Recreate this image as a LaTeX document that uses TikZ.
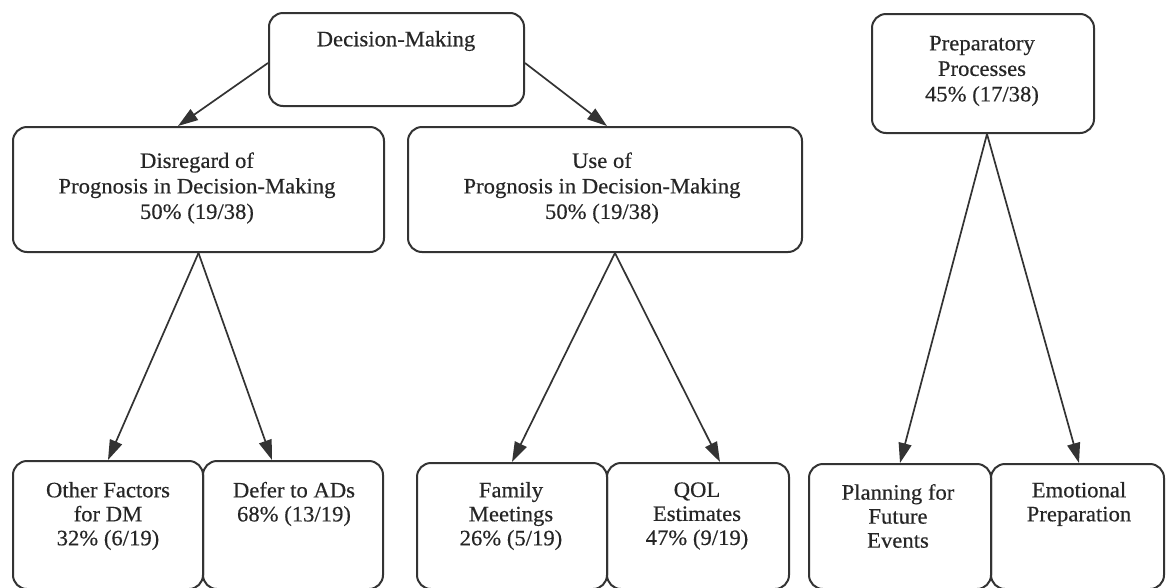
\documentclass[tikz,border=0pt]{standalone}
\usepackage{fontspec}
\setmainfont{Liberation Serif}[FakeStretch=1.03,FakeBold=0.4]
\usetikzlibrary{arrows.meta,calc}
\definecolor{ink}{HTML}{333333}
\definecolor{txt}{HTML}{262626}
\begin{document}
\begin{tikzpicture}[x=1pt,y=-1pt,
  box/.style={draw=ink, line width=2pt, rounded corners=14pt, rectangle, inner sep=0pt, anchor=north west},
  lbl/.style={text=txt, align=center, font=\fontsize{22}{25.5}\selectfont, inner sep=0pt},
  lbls/.style={text=txt, align=center, font=\fontsize{22}{24}\selectfont, inner sep=0pt},
  conn/.style={draw=ink, line width=1.7pt, -{Triangle[length=20pt,width=13pt]}}
]
\useasboundingbox (0,0) rectangle (1168,587);
\fill[white] (0,0) rectangle (1168,587);
\begin{scope}
\clip (0,0) rectangle (1168,587);
% boxes
\node[box, minimum width=255pt, minimum height=93pt] (dm) at (268,12) {};
\node[box, minimum width=371pt, minimum height=125pt] (dis) at (12,126) {};
\node[box, minimum width=394pt, minimum height=125pt] (use) at (407,126) {};
\node[box, minimum width=222pt, minimum height=119pt] (prep) at (871,13) {};
\node[box, minimum width=190pt, minimum height=128pt] (oth) at (12,460) {};
\node[box, minimum width=180pt, minimum height=128pt] (def) at (202,460) {};
\node[box, minimum width=190pt, minimum height=126pt] (fam) at (416,462) {};
\node[box, minimum width=182pt, minimum height=126pt] (qol) at (606,462) {};
\node[box, minimum width=182pt, minimum height=125pt] (pln) at (808,463) {};
\node[box, minimum width=173pt, minimum height=125pt] (emo) at (990,463) {};
% texts
\node[lbl] (tdm) at (396,41) {Decision-Making};
\node[lbl] (tdis) at (197,188) {Disregard of\\Prognosis in Decision-Making\\50\% (19/38)};
\node[lbl] (tuse) at (602,188) {Use of\\Prognosis in Decision-Making\\50\% (19/38)};
\node[lbl] (tprep) at (982,71) {Preparatory\\Processes\\45\% (17/38)};
\node[lbls] (toth) at (108,516) {Other Factors\\for DM\\32\% (6/19)};
\node[lbls] (tdef) at (294,504) {Defer to ADs\\68\% (13/19)};
\node[lbls] (tfam) at (511,516) {Family\\Meetings\\26\% (5/19)};
\node[lbls] (tqol) at (697,516) {QOL\\Estimates\\47\% (9/19)};
\node[lbls] (tpln) at (898,516) {Planning for\\Future\\Events};
\node[lbls] (temo) at (1079,504) {Emotional\\Preparation};
% connectors
\draw[conn] ([yshift=-3.5pt]dm.west) -- ($(dis.north west)+(166,0)$);
\draw[conn] ([yshift=-3.5pt]dm.east) -- ($(use.north west)+(200,0)$);
\draw[conn] (dis.south) -- (oth.north);
\draw[conn] (dis.south) -- ($(def.north west)+(70,0)$);
\draw[conn] ($(use.south west)+(208,0)$) -- (fam.north);
\draw[conn] ($(use.south west)+(208,0)$) -- ($(qol.north west)+(114,0)$);
\draw[conn] ($(prep.south west)+(116,0)$) -- (pln.north);
\draw[conn] ($(prep.south west)+(116,0)$) -- ($(emo.north west)+(89,0)$);
\end{scope}
\end{tikzpicture}
\end{document}
